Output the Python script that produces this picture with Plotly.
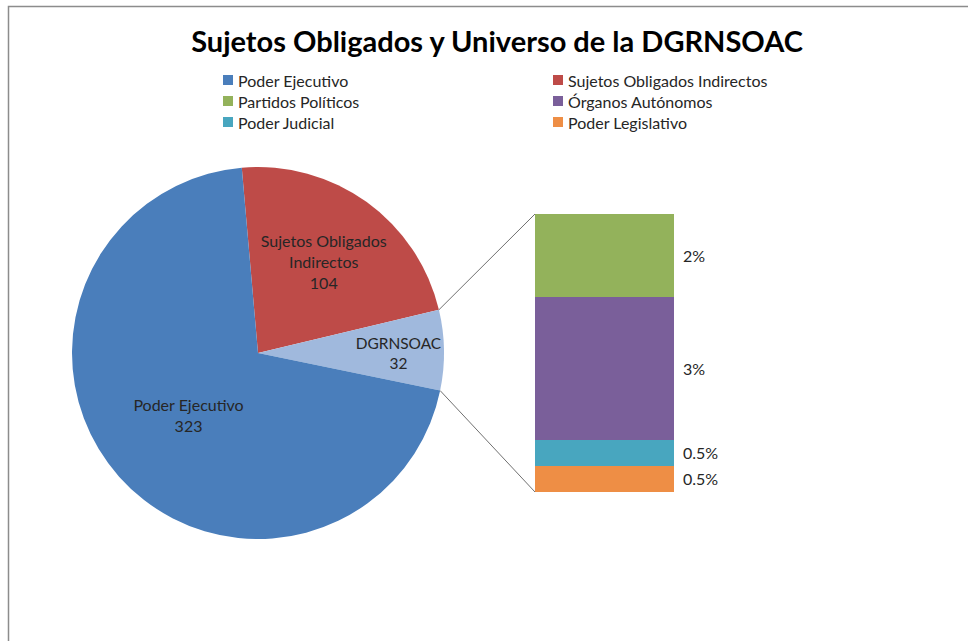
import math
import plotly.graph_objects as go

# ---- data ----
title_text = "Sujetos Obligados y Universo de la DGRNSOAC"
pie_labels = ["Sujetos Obligados Indirectos", "DGRNSOAC", "Poder Ejecutivo"]
pie_display = ["Sujetos Obligados<br>Indirectos", "DGRNSOAC", "Poder Ejecutivo"]
pie_values = [104, 32, 323]
pie_colors = ["#BE4B48", "#A0B9DD", "#4A7EBB"]

bar_labels = ["Partidos Políticos", "Órganos Autónomos", "Poder Judicial", "Poder Legislativo"]
bar_values = [9.5, 16.5, 3, 3]
bar_pct = ["2%", "3%", "0.5%", "0.5%"]
bar_colors = ["#93B25B", "#7A5F9A", "#48A6BF", "#EE8E45"]

legend_labels = ["Poder Ejecutivo", "Sujetos Obligados Indirectos",
                 "Partidos Políticos", "Órganos Autónomos",
                 "Poder Judicial", "Poder Legislativo"]
legend_colors = ["#4A7EBB", "#BE4B48", "#93B25B", "#7A5F9A", "#48A6BF", "#EE8E45"]

W, H = 968, 641
FONT = "Lato"
TXT = "#262626"


def px(x):
    return x / W


def py(y):
    return 1 - y / H


fig = go.Figure()

# pie geometry (pixels)
pcx, pcy, pr = 258, 353, 186
pie_dom_x = [px(pcx - pr), px(pcx + pr)]
pie_dom_y = [py(pcy + pr), py(pcy - pr)]
rotation = -5

fig.add_trace(go.Pie(
    labels=pie_labels, values=pie_values, customdata=pie_display,
    texttemplate="%{customdata}<br>%{value}", textposition="inside",
    insidetextorientation="horizontal",
    textfont=dict(family=FONT, size=16, color=TXT),
    marker=dict(colors=pie_colors, line=dict(width=0)),
    sort=False, direction="clockwise", rotation=rotation,
    domain=dict(x=pie_dom_x, y=pie_dom_y), showlegend=False,
    hoverinfo="label+value",
))

# bar of pie (stacked, bottom first)
bx0, bx1, by0, by1 = 535, 674, 214, 492
order = list(range(len(bar_values)))[::-1]
for i in order:
    fig.add_trace(go.Bar(
        x=[0], y=[bar_values[i]], name=bar_labels[i], width=1,
        marker=dict(color=bar_colors[i], line=dict(width=0)),
        xaxis="x", yaxis="y", showlegend=False,
    ))

total_bar = sum(bar_values)
cum = 0
mids = {}
for i in order:
    mids[i] = cum + bar_values[i] / 2
    cum += bar_values[i]
for i in range(len(bar_values)):
    fig.add_annotation(x=0.5, y=mids[i], xref="x", yref="y", text=bar_pct[i],
                       showarrow=False, xanchor="left", yanchor="middle", xshift=7,
                       font=dict(family=FONT, size=16, color=TXT))

# connector lines from DGRNSOAC slice edges to bar corners
tot = sum(pie_values)
start = rotation + 360 * pie_values[0] / tot
end = start + 360 * pie_values[1] / tot
for ang, (cx, cy) in [(start, (bx0, by0)), (end, (bx0, by1))]:
    a = math.radians(ang)
    ex = pcx + pr * math.sin(a)
    ey = pcy - pr * math.cos(a)
    fig.add_shape(type="line", xref="paper", yref="paper",
                  x0=px(ex), y0=py(ey), x1=px(cx), y1=py(cy),
                  line=dict(color="#707070", width=1))

# manual legend (two columns)
col_x = [223, 553]
row_y = [80, 101, 122]
for k, (lab, col) in enumerate(zip(legend_labels, legend_colors)):
    cx = col_x[k % 2]
    cy = row_y[k // 2]
    fig.add_shape(type="rect", xref="paper", yref="paper",
                  x0=px(cx), x1=px(cx + 10), y0=py(cy + 5), y1=py(cy - 5),
                  fillcolor=col, line=dict(width=0))
    fig.add_annotation(x=px(cx + 13), y=py(cy), xref="paper", yref="paper",
                       text=lab, showarrow=False, xanchor="left", yanchor="middle",
                       font=dict(family=FONT, size=16, color=TXT))

# chart border (clipped at right / bottom as in the reference)
fig.add_shape(type="rect", xref="paper", yref="paper",
              x0=px(8.5), x1=1.05, y0=-0.05, y1=py(6.5),
              line=dict(color="#8C8C8C", width=1.5), fillcolor="rgba(0,0,0,0)")

fig.update_layout(
    width=W, height=H,
    margin=dict(l=0, r=0, t=0, b=0),
    paper_bgcolor="white", plot_bgcolor="white",
    barmode="stack", bargap=0,
    title=dict(text=title_text, x=497 / W, xanchor="center", y=py(42), yanchor="middle",
               yref="container",
               font=dict(family=FONT, size=29, color="#000000", weight="bold")),
    xaxis=dict(domain=[px(bx0), px(bx1)], range=[-0.5, 0.5], visible=False, fixedrange=True),
    yaxis=dict(domain=[py(by1), py(by0)], range=[0, total_bar], visible=False, fixedrange=True),
    showlegend=False,
)

fig.write_html("out.html", config={"displayModeBar": False},
               post_script="document.body.style.margin='0';")
